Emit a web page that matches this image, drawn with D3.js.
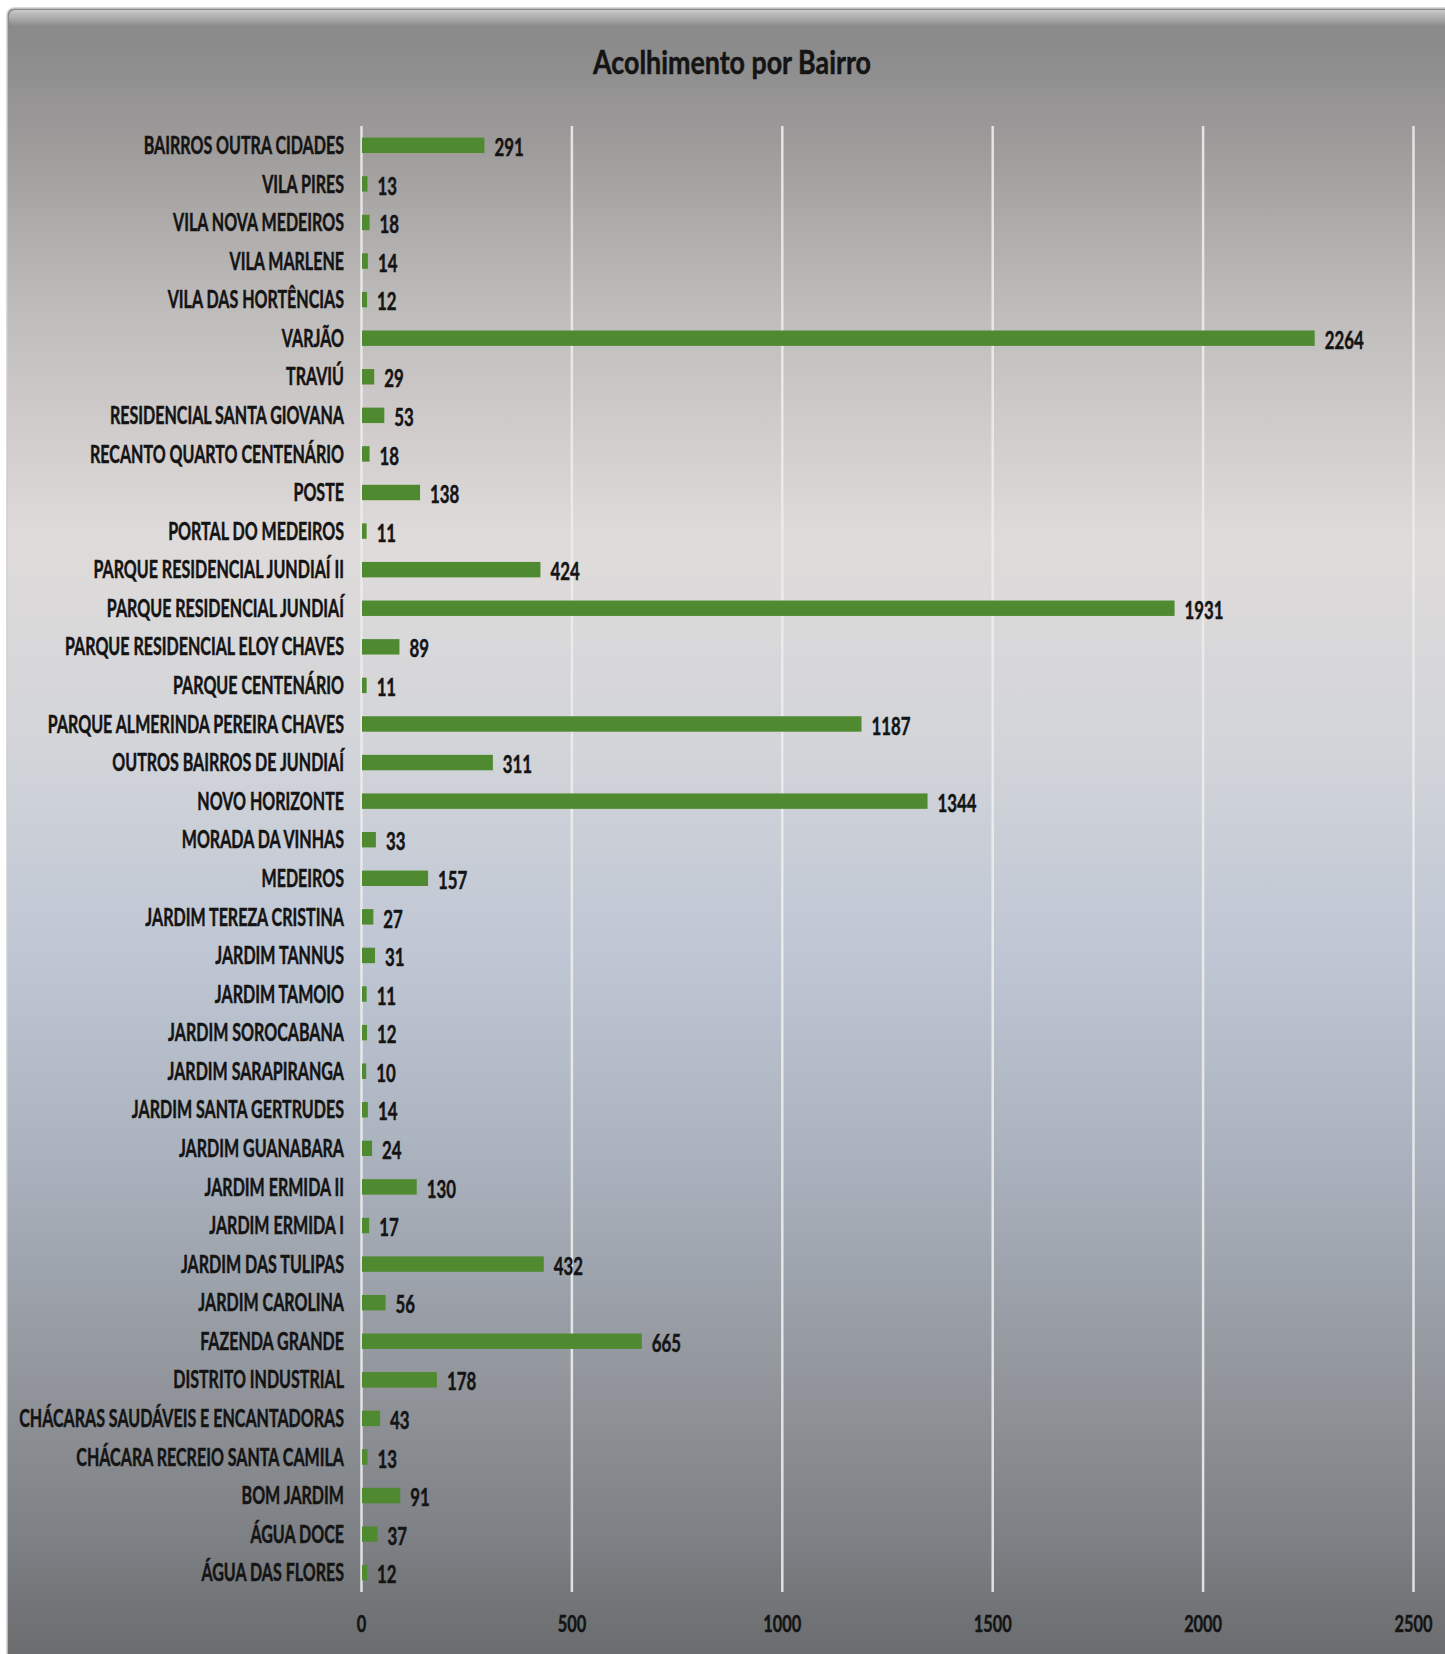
<!DOCTYPE html>
<html>
<head>
<meta charset="utf-8">
<script src="https://cdn.jsdelivr.net/npm/d3@7"></script>
<style>
  body { margin: 0; background: #fff; }
  text { font-family: Lato, "Open Sans", sans-serif; font-weight: 700; fill: #141414; stroke: #141414; stroke-width: 0.5px; }
</style>
</head>
<body>
<div id="chart"></div>
<script>
// categories, top to bottom as shown
const bairros = [
  "BAIRROS OUTRA CIDADES", "VILA PIRES", "VILA NOVA MEDEIROS", "VILA MARLENE",
  "VILA DAS HORTÊNCIAS", "VARJÃO", "TRAVIÚ", "RESIDENCIAL SANTA GIOVANA",
  "RECANTO QUARTO CENTENÁRIO", "POSTE", "PORTAL DO MEDEIROS", "PARQUE RESIDENCIAL JUNDIAÍ II",
  "PARQUE RESIDENCIAL JUNDIAÍ", "PARQUE RESIDENCIAL ELOY CHAVES", "PARQUE CENTENÁRIO",
  "PARQUE ALMERINDA PEREIRA CHAVES", "OUTROS BAIRROS DE JUNDIAÍ", "NOVO HORIZONTE",
  "MORADA DA VINHAS", "MEDEIROS", "JARDIM TEREZA CRISTINA", "JARDIM TANNUS", "JARDIM TAMOIO",
  "JARDIM SOROCABANA", "JARDIM SARAPIRANGA", "JARDIM SANTA GERTRUDES", "JARDIM GUANABARA",
  "JARDIM ERMIDA II", "JARDIM ERMIDA I", "JARDIM DAS TULIPAS", "JARDIM CAROLINA",
  "FAZENDA GRANDE", "DISTRITO INDUSTRIAL", "CHÁCARAS SAUDÁVEIS E ENCANTADORAS",
  "CHÁCARA RECREIO SANTA CAMILA", "BOM JARDIM", "ÁGUA DOCE", "ÁGUA DAS FLORES"
];
const acolhimentos = [
  291, 13, 18, 14, 12, 2264, 29, 53, 18, 138, 11, 424, 1931, 89, 11,
  1187, 311, 1344, 33, 157, 27, 31, 11, 12, 10, 14, 24, 130, 17, 432, 56,
  665, 178, 43, 13, 91, 37, 12
];
const xTicks = [0, 500, 1000, 1500, 2000, 2500];
const titulo = "Acolhimento por Bairro";

const W = 1445, H = 1654;
const plot = { left: 361, right: 1413, top: 126, bottom: 1592 };

const data = bairros.map((b, i) => ({ bairro: b, valor: acolhimentos[i] }));

const svg = d3.select("#chart").append("svg")
  .attr("width", W).attr("height", H);

const defs = svg.append("defs");
const bg = defs.append("linearGradient").attr("id", "bg")
  .attr("x1", 0).attr("y1", 0).attr("x2", 0).attr("y2", 1);
[
  [0.00, "#8b8b8b"], [0.02, "#8a8a8a"], [0.08, "#9d9a9a"], [0.18, "#bebbbb"],
  [0.32, "#dfdbda"], [0.44, "#d3d5d9"], [0.57, "#bfc7d4"], [0.69, "#abb3bf"],
  [0.83, "#92969c"], [0.93, "#7c7f83"], [1.00, "#696b6c"]
].forEach(s => bg.append("stop").attr("offset", s[0]).attr("stop-color", s[1]));

const bevel = defs.append("linearGradient").attr("id", "bevel")
  .attr("x1", 0).attr("y1", 0).attr("x2", 0).attr("y2", 1);
bevel.append("stop").attr("offset", 0).attr("stop-color", "#c9c9c9");
bevel.append("stop").attr("offset", 0.5).attr("stop-color", "#acacac");
bevel.append("stop").attr("offset", 1).attr("stop-color", "#8b8b8b");

// panel
svg.append("rect").attr("x", 7).attr("y", 8).attr("width", W).attr("height", H)
  .attr("rx", 7).attr("fill", "url(#bg)").attr("stroke", "#cfcfcf").attr("stroke-width", 1.5);
svg.append("rect").attr("x", 9).attr("y", 10).attr("width", W).attr("height", 16)
  .attr("rx", 6).attr("fill", "url(#bevel)");

const x = d3.scaleLinear().domain([0, 2500]).range([plot.left, plot.right]);
const y = d3.scaleBand().domain(bairros).range([plot.top, plot.bottom]).paddingInner(0.6).paddingOuter(0.3);

// gridlines
const grid = svg.append("g")
  .attr("transform", "translate(0," + plot.bottom + ")")
  .call(d3.axisBottom(x).tickValues(xTicks).tickSize(-(plot.bottom - plot.top)).tickFormat(""));
grid.select(".domain").remove();
grid.selectAll("line").attr("stroke", "#ececec").attr("stroke-width", 2.5).attr("stroke-opacity", 0.9);

// bars
svg.append("g").selectAll("rect")
  .data(data)
  .join("rect")
  .attr("x", x(0) + 1)
  .attr("y", d => y(d.bairro))
  .attr("width", d => x(d.valor) - x(0))
  .attr("height", y.bandwidth())
  .attr("fill", "#508a30");

// squeeze text horizontally so the wide fonts look like the condensed original
function squeeze(texts, widest) {
  const w = d3.max(texts.nodes(), n => n.getComputedTextLength());
  texts.attr("transform", "scale(" + (widest / w) + ",1)");
}

// category labels
const catText = svg.append("g").selectAll("g")
  .data(data)
  .join("g")
  .attr("transform", d => "translate(" + (x(0) - 17) + "," + (y(d.bairro) + y.bandwidth() / 2) + ")")
  .append("text")
  .attr("text-anchor", "end")
  .attr("dy", "0.36em")
  .style("font-size", "24px")
  .text(d => d.bairro);
squeeze(catText, 325);

// value labels
const valText = svg.append("g").selectAll("g")
  .data(data)
  .join("g")
  .attr("transform", d => "translate(" + (x(d.valor) + 11) + "," + (y(d.bairro) + y.bandwidth() / 2 + 2) + ")")
  .append("text")
  .attr("dy", "0.36em")
  .style("font-size", "24px")
  .text(d => d.valor);
squeeze(valText, 39);

// x axis labels
const ax = svg.append("g")
  .attr("transform", "translate(0," + plot.bottom + ")")
  .call(d3.axisBottom(x).tickValues(xTicks).tickSize(0).tickPadding(24).tickFormat(d3.format("d")));
ax.select(".domain").remove();
ax.selectAll("text").style("font-size", "22px").attr("fill", "#141414")
  .style("font-family", "Lato, sans-serif").style("font-weight", 700);
squeeze(ax.selectAll("text"), 38);

// title
const t = svg.append("g").attr("transform", "translate(732,74)")
  .append("text").attr("text-anchor", "middle")
  .style("font-size", "33px")
  .text(titulo);
squeeze(t, 278);
</script>
</body>
</html>
